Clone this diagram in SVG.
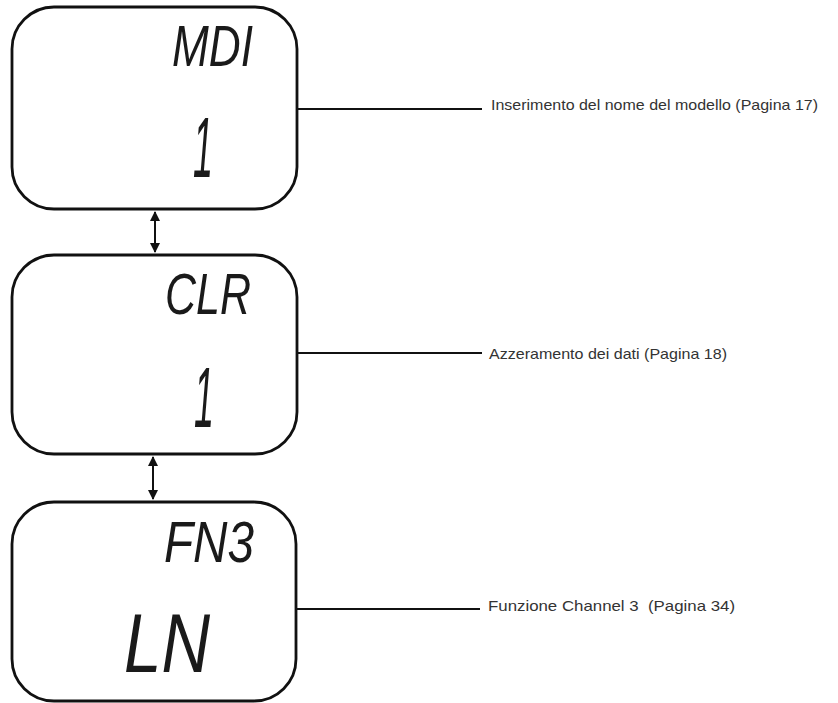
<svg xmlns="http://www.w3.org/2000/svg" width="838" height="703" viewBox="0 0 838 703">
<style>
.box{fill:#fff;stroke:#111;stroke-width:2.8}
.lcd{font-family:"Liberation Sans","DejaVu Sans",sans-serif;font-style:italic;fill:#1a1a1a}
.lbl{font-family:"Liberation Sans","DejaVu Sans",sans-serif;font-size:15px;fill:#333}
.conn{stroke:#111;stroke-width:2;fill:none}
</style>
<defs>
<marker id="ah" viewBox="0 0 10 10" refX="9" refY="5" markerWidth="5" markerHeight="5" orient="auto-start-reverse" markerUnits="strokeWidth">
<path d="M0,0 L10,5 L0,10 Z" fill="#111"/>
</marker>
</defs>
<rect width="838" height="703" fill="#fff"/>
<g id="node-md1">
<rect class="box" x="12" y="7" width="285" height="202" rx="42"/>
<text class="lcd" x="172" y="66" font-size="58" textLength="81" lengthAdjust="spacingAndGlyphs">MDI</text>
<text class="lcd" x="193" y="177" font-size="86" textLength="20" lengthAdjust="spacingAndGlyphs">1</text>
</g>
<g id="node-clr">
<rect class="box" x="12" y="255" width="285" height="199" rx="42"/>
<text class="lcd" x="165" y="314" font-size="58" textLength="86" lengthAdjust="spacingAndGlyphs">CLR</text>
<text class="lcd" x="194" y="427" font-size="86" textLength="20" lengthAdjust="spacingAndGlyphs">1</text>
</g>
<g id="node-fn3">
<rect class="box" x="12" y="502" width="284" height="199" rx="42"/>
<text class="lcd" x="164" y="562" font-size="58" textLength="90" lengthAdjust="spacingAndGlyphs">FN3</text>
<text class="lcd" x="124" y="672" font-size="84" textLength="86" lengthAdjust="spacingAndGlyphs">LN</text>
</g>
<g id="connectors">
<line class="conn" x1="297" y1="109" x2="482" y2="109"/>
<line class="conn" x1="297" y1="353" x2="482" y2="353"/>
<line class="conn" x1="296" y1="609" x2="480" y2="609"/>
<line class="conn" x1="155" y1="212" x2="155" y2="252" marker-start="url(#ah)" marker-end="url(#ah)"/>
<line class="conn" x1="153" y1="457" x2="153" y2="499" marker-start="url(#ah)" marker-end="url(#ah)"/>
</g>
<g id="labels">
<text class="lbl" x="491" y="110" textLength="327" lengthAdjust="spacingAndGlyphs">Inserimento del nome del modello (Pagina 17)</text>
<text class="lbl" x="489" y="359" textLength="238" lengthAdjust="spacingAndGlyphs">Azzeramento dei dati (Pagina 18)</text>
<text class="lbl" x="488" y="611" textLength="247" lengthAdjust="spacingAndGlyphs" xml:space="preserve">Funzione Channel 3  (Pagina 34)</text>
</g>
</svg>
